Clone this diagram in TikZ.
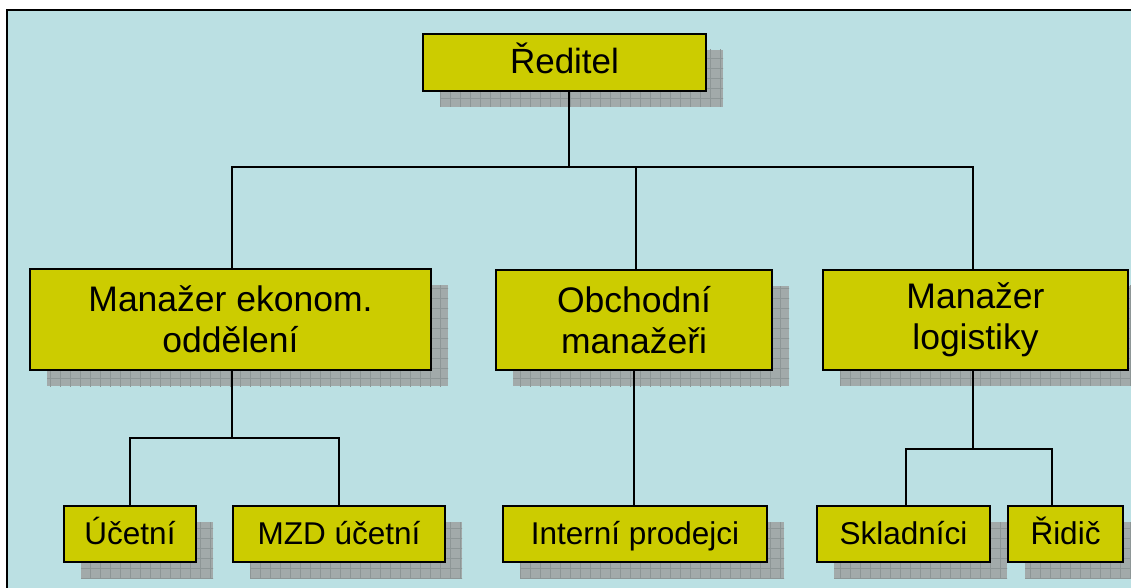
\documentclass[tikz,border=0pt]{standalone}
\usepackage{fontspec}
\setmainfont{Liberation Sans}
\usepackage{xcolor}
\usepackage{tikz}
\usetikzlibrary{positioning, shadows, patterns.meta}

\definecolor{paper}{HTML}{BBE0E3}
\definecolor{boxfill}{HTML}{CCCC00}
\definecolor{shadowfill}{HTML}{A2AAAA}
\definecolor{shadowgrid}{HTML}{8D9696}

\begin{document}
\begin{tikzpicture}[x=1pt, y=-1pt,
  unit/.style={draw=black, line width=2pt, fill=boxfill, align=center, inner sep=0pt,
               font=\fontsize{35.5}{41}\selectfont,
               general shadow={fill=shadowfill, shadow xshift=17pt, shadow yshift=-16pt,
                 postaction={pattern={Hatch[distance=10pt, line width=0.8pt]},
                             pattern color=shadowgrid}}},
  sub/.style={unit, minimum height=56pt, text height=26pt, text depth=6pt,
              font=\fontsize{31.5}{36}\selectfont},
  link/.style={draw=black, line width=2pt}
]
\useasboundingbox (0,0) rectangle (1131,588);
\draw[fill=paper, line width=2.2pt] (7,10) rectangle (1150,605);

% top
\node[unit, minimum width=283pt, minimum height=57pt, text height=29pt, text depth=6pt,
      font=\fontsize{35}{40}\selectfont] (dir) at (564.5,62.5) {Ředitel};

% managers
\node[unit, minimum width=401pt, minimum height=101pt] (eko)  at (230.5,319.5) {Manažer ekonom.\\oddělení};
\node[unit, minimum width=276pt, minimum height=100pt] (obch) at (634,320)     {Obchodní\\manažeři};
\node[unit, minimum width=305pt, minimum height=100pt] (log)  at (975.5,319.5) {Manažer\\logistiky};

% staff
\node[sub, minimum width=132pt] (uc)  at (130,534)    {Účetní};
\node[sub, minimum width=212pt] (mzd) at (339,534)    {MZD účetní};
\node[sub, minimum width=264pt] (int) at (635,534)    {Interní prodejci};
\node[sub, minimum width=173pt] (skl) at (903.5,534)  {Skladníci};
\node[sub, minimum width=115pt] (rid) at (1065.5,534) {Řidič};

% bus lines
\coordinate (top) at (0,167);
\coordinate (ekobus) at (0,438);
\coordinate (logbus) at (0,449);

\draw[link] ([xshift=4.5pt]dir.south) -- ([xshift=4.5pt]dir.south |- top);
\draw[link] ([xshift=1.5pt]eko.north) |- ([xshift=-2.5pt]log.north |- top) -- ([xshift=-2.5pt]log.north);
\draw[link] ([xshift=2pt]obch.north) -- ([xshift=2pt]obch.north |- top);

\draw[link] ([xshift=1.5pt]eko.south) -- ([xshift=1.5pt]eko.south |- ekobus);
\draw[link] (uc.north) |- (mzd.north |- ekobus) -- (mzd.north);

\draw[link] (obch.south) -- (obch.south |- int.north);

\draw[link] ([xshift=-2.5pt]log.south) -- ([xshift=-2.5pt]log.south |- logbus);
\draw[link] ([xshift=2.5pt]skl.north) |- ([xshift=-13.5pt]rid.north |- logbus) -- ([xshift=-13.5pt]rid.north);
\end{tikzpicture}
\end{document}
